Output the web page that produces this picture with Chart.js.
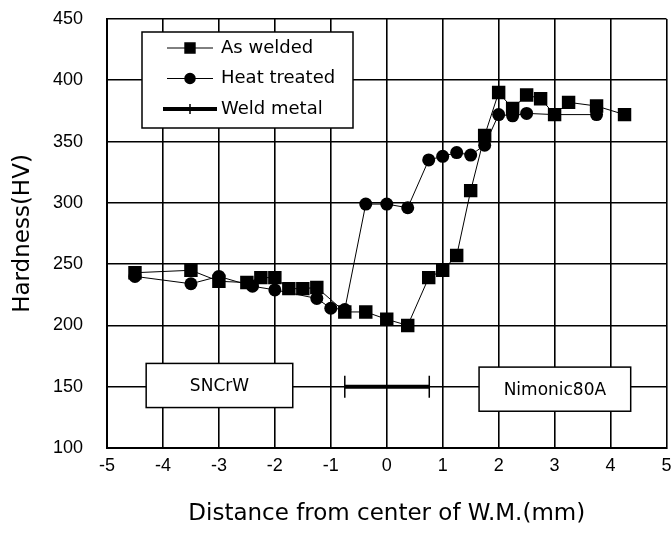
<!DOCTYPE html>
<html>
<head>
<meta charset="utf-8">
<script src="https://cdn.jsdelivr.net/npm/chart.js@4.4.0/dist/chart.umd.min.js"></script>
<style>
  html, body { margin: 0; padding: 0; background: #fff; overflow: hidden; }
  #wrap { width: 679px; height: 533px; }
</style>
</head>
<body>
<div id="wrap"><canvas id="chart"></canvas></div>
<script>
// Hardness profile across the weld
const weldedX = [-4.5, -3.5, -3.0, -2.5, -2.25, -2.0, -1.75, -1.5, -1.25, -0.75, -0.375, 0, 0.375, 0.75, 1.0, 1.25, 1.5, 1.75, 2.0, 2.25, 2.5, 2.75, 3.0, 3.25, 3.75, 4.25];
const weldedHV = [243, 245, 236, 235, 239, 239, 230, 230, 231, 211, 211, 205, 200, 239, 245, 257, 310, 355, 390, 377, 388, 385, 372, 382, 379, 372];

const treatedX = [-4.5, -3.5, -3.0, -2.4, -2.0, -1.25, -1.0, -0.75, -0.375, 0, 0.375, 0.75, 1.0, 1.25, 1.5, 1.75, 2.0, 2.25, 2.5, 3.0, 3.75];
const treatedHV = [240, 234, 240, 232, 229, 222, 214, 213, 299, 299, 296, 335, 338, 341, 339, 347, 372, 371, 373, 372, 372];

// weld metal zone
const weldX = [-0.75, 0.76];
const weldHV = [150, 150];

const xTicks = [-5, -4, -3, -2, -1, 0, 1, 2, 3, 4, 5];
const yTicks = [100, 150, 200, 250, 300, 350, 400, 450];

const toPts = (xs, ys) => xs.map((x, i) => ({ x: x, y: ys[i] }));

const FONT = "'DejaVu Sans', sans-serif";
const TICKFONT = "'Liberation Sans', Arial, sans-serif";

// Legend box + material labels drawn on top of the plot
const overlay = {
    id: "overlay",
    afterDatasetsDraw(c) {
        const ctx = c.ctx;
        const xs = c.scales.x;
        const ys = c.scales.y;
        const a = c.chartArea;
        ctx.save();

        // material boxes
        const boxes = [
            { text: "SNCrW", x0: -4.3, x1: -1.68, y0: 169, y1: 133 },
            { text: "Nimonic80A", x0: 1.65, x1: 4.36, y0: 166, y1: 130 },
        ];
        boxes.forEach((b) => {
            const l = xs.getPixelForValue(b.x0);
            const r = xs.getPixelForValue(b.x1);
            const t = ys.getPixelForValue(b.y0);
            const bt = ys.getPixelForValue(b.y1);
            ctx.fillStyle = "#fff";
            ctx.fillRect(l, t, r - l, bt - t);
            ctx.strokeStyle = "#000";
            ctx.lineWidth = 1.5;
            ctx.strokeRect(l, t, r - l, bt - t);
            ctx.fillStyle = "#000";
            ctx.font = "17px " + FONT;
            ctx.textAlign = "center";
            ctx.textBaseline = "middle";
            ctx.fillText(b.text, (l + r) / 2, (t + bt) / 2 + 1);
        });

        // legend
        const lx = a.left + 35;
        const ly = a.top + 13;
        const lw = 211;
        const lh = 96;
        ctx.fillStyle = "#fff";
        ctx.fillRect(lx, ly, lw, lh);
        ctx.strokeStyle = "#000";
        ctx.lineWidth = 1.5;
        ctx.strokeRect(lx, ly, lw, lh);

        const rows = [
            { label: "As welded", style: "rect", r: 7, lw: 1 },
            { label: "Heat treated", style: "circle", r: 5, lw: 1 },
            { label: "Weld metal", style: "line", r: 5, lw: 4 },
        ];
        rows.forEach((row, i) => {
            const y = ly + 16 + i * 30.5;
            const sx0 = lx + (row.lw > 1 ? 21 : 25);
            const sx1 = lx + (row.lw > 1 ? 75 : 71);
            const mx = lx + 48;
            ctx.strokeStyle = "#000";
            ctx.lineWidth = row.lw;
            ctx.beginPath();
            ctx.moveTo(sx0, y);
            ctx.lineTo(sx1, y);
            ctx.stroke();
            ctx.fillStyle = "#000";
            ctx.lineWidth = 1.5;
            Chart.helpers.drawPoint(ctx, {
                pointStyle: row.style,
                radius: row.r,
                rotation: row.style === "line" ? 90 : 0,
                borderWidth: 1.5,
            }, mx, y);
            ctx.fillStyle = "#000";
            ctx.font = "18px " + FONT;
            ctx.textAlign = "left";
            ctx.textBaseline = "middle";
            ctx.fillText(row.label, lx + 79, y);
        });

        ctx.restore();
    },
};

new Chart(document.getElementById("chart"), {
    type: "scatter",
    data: {
        datasets: [
            {
                label: "Weld metal",
                data: toPts(weldX, weldHV),
                showLine: true,
                borderColor: "#000",
                borderWidth: 4,
                pointStyle: "line",
                rotation: 90,
                pointRadius: 11,
                pointBorderWidth: 1.5,
                pointBorderColor: "#000",
            },
            {
                label: "As welded",
                data: toPts(weldedX, weldedHV),
                showLine: true,
                borderColor: "#000",
                borderWidth: 1,
                pointStyle: "rect",
                pointRadius: 9.5,
                pointBackgroundColor: "#000",
                pointBorderColor: "#000",
                pointBorderWidth: 0,
            },
            {
                label: "Heat treated",
                data: toPts(treatedX, treatedHV),
                showLine: true,
                borderColor: "#000",
                borderWidth: 1,
                pointStyle: "circle",
                pointRadius: 6.5,
                pointBackgroundColor: "#000",
                pointBorderColor: "#000",
                pointBorderWidth: 0,
            },
        ],
    },
    options: {
        responsive: true,
        maintainAspectRatio: false,
        animation: false,
        events: [],
        layout: {
            padding: { top: 19, right: 0, left: 0, bottom: 0 },
        },
        scales: {
            x: {
                type: "linear",
                min: -5,
                max: 5,
                afterBuildTicks: (s) => { s.ticks = xTicks.map((v) => ({ value: v })); },
                afterFit: (s) => { s.height = 85; s.paddingLeft = 0; s.paddingRight = 0; },
                grid: { color: "#000", lineWidth: 1.6, drawTicks: false },
                border: { color: "#000", width: 2 },
                ticks: {
                    color: "#000",
                    padding: 7,
                    font: { family: TICKFONT, size: 18 },
                },
                title: {
                    display: true,
                    text: "Distance from center of W.M.(mm)",
                    color: "#000",
                    font: { family: FONT, size: 23 },
                    padding: { top: 0, bottom: 5 },
                },
            },
            y: {
                type: "linear",
                min: 100,
                max: 450,
                afterBuildTicks: (s) => { s.ticks = yTicks.map((v) => ({ value: v })); },
                afterFit: (s) => { s.width = 107; s.paddingTop = 0; s.paddingBottom = 0; },
                grid: { color: "#000", lineWidth: 1.6, drawTicks: false },
                border: { color: "#000", width: 2 },
                ticks: {
                    color: "#000",
                    padding: 24,
                    font: { family: TICKFONT, size: 18 },
                },
                title: {
                    display: true,
                    text: "Hardness(HV)",
                    color: "#000",
                    font: { family: FONT, size: 23 },
                    padding: { top: 9, bottom: 0 },
                },
            },
        },
        plugins: {
            legend: { display: false },
            tooltip: { enabled: false },
        },
    },
    plugins: [overlay],
});
</script>
</body>
</html>
